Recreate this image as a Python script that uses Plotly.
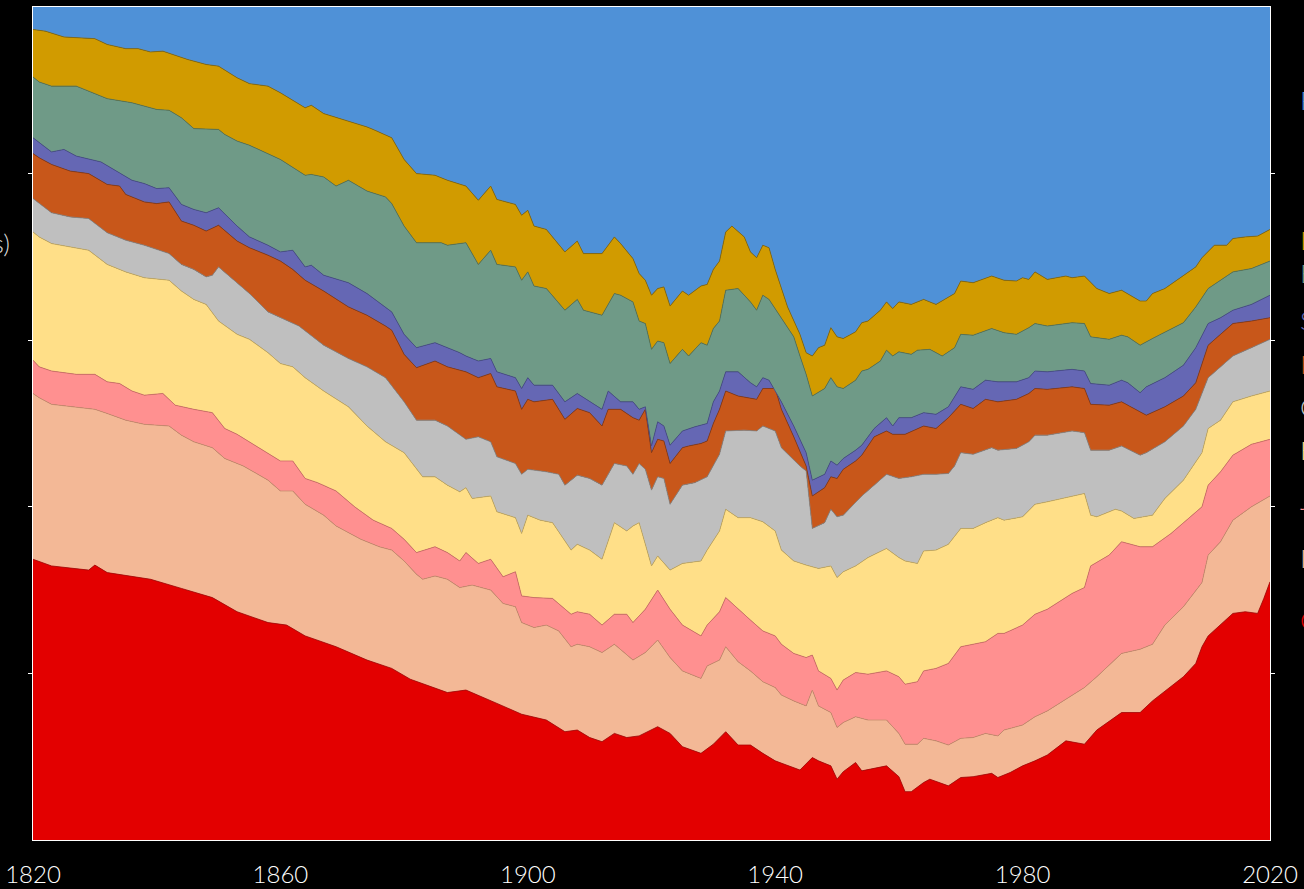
import plotly.graph_objects as go

# Cumulative share (%): top edge of each stacked band, bottom to top.
china_years = [1820,1823,1829,1830,1832,1839,1844,1849,1853,1858,1861,1864,1869,1874,1878,1881,1887,1890,1895,1899,1903,1906,1908,1910,1912,1914,1916,1918,1921,1923,1925,1928,1930,1932,1934,1936,1938,1940,1944,1946,1947,1949,1950,1951,1953,1954,1958,1960,1961,1962,1964,1965,1968,1970,1972,1975,1976,1978,1980,1982,1984,1987,1990,1992,1996,1999,2001,2003,2006,2008,2009,2010,2012,2014,2016,2018,2019,2020]
china_top = [33.7,32.9,32.4,33.0,32.1,31.3,30.2,29.1,27.4,26.1,25.8,24.5,23.2,21.6,20.6,19.3,17.7,18.0,16.4,15.1,14.4,13.0,13.2,12.3,11.8,12.8,12.3,12.5,13.6,12.8,11.2,10.4,11.5,13.0,11.4,11.4,10.4,9.5,8.4,9.9,9.5,8.9,7.3,8.2,9.3,8.3,8.9,7.6,5.8,5.8,6.9,7.3,6.5,7.5,7.6,8.0,7.5,8.1,8.9,9.5,10.2,11.9,11.5,13.2,15.3,15.3,16.7,17.9,19.6,21.2,23.2,24.5,25.8,27.2,27.4,27.2,29.0,31.0]

india_years = [1820,1821,1823,1827,1830,1832,1835,1838,1842,1844,1846,1849,1851,1854,1858,1860,1862,1864,1867,1869,1873,1876,1878,1880,1882,1883,1885,1887,1889,1891,1894,1896,1898,1899,1901,1903,1905,1907,1908,1910,1912,1914,1916,1917,1919,1921,1923,1925,1928,1929,1931,1932,1934,1936,1938,1940,1941,1943,1945,1946,1947,1949,1950,1951,1953,1955,1958,1960,1961,1963,1964,1966,1968,1970,1972,1974,1976,1977,1980,1982,1984,1988,1990,1992,1996,1999,2001,2003,2006,2009,2010,2012,2014,2017,2020]
india_top = [53.6,53.1,52.3,52.0,51.7,51.2,50.4,49.9,49.7,48.6,47.8,47.1,45.8,44.9,43.2,41.9,41.9,40.3,39.0,37.7,36.1,35.2,34.8,33.5,31.9,31.3,31.7,31.3,30.3,30.6,30.0,28.4,28.0,26.1,25.5,25.8,25.1,23.2,23.5,23.2,22.5,23.5,22.2,21.6,22.5,24.0,21.9,20.3,19.4,20.9,21.6,23.2,21.4,20.3,19.0,18.3,17.4,16.7,16.1,18.0,16.1,15.3,13.5,14.1,14.8,14.4,14.4,12.8,11.5,11.5,12.2,11.9,11.4,12.2,12.3,12.8,12.5,13.2,13.8,14.8,15.5,17.4,18.3,19.6,22.4,22.9,23.5,25.8,28.0,30.9,34.2,35.8,38.4,40.0,41.3]

japan_years = [1820,1821,1823,1827,1830,1832,1834,1836,1838,1841,1843,1846,1849,1851,1853,1855,1858,1860,1862,1864,1866,1869,1872,1875,1878,1880,1882,1885,1887,1889,1890,1892,1894,1896,1898,1899,1901,1904,1907,1908,1910,1912,1914,1916,1917,1919,1921,1923,1925,1928,1929,1931,1932,1934,1936,1938,1940,1941,1943,1945,1946,1947,1949,1950,1951,1953,1955,1958,1960,1961,1963,1964,1966,1968,1970,1972,1974,1976,1977,1980,1982,1984,1988,1990,1991,1994,1996,1999,2001,2004,2007,2009,2010,2012,2014,2017,2020]
japan_top = [57.6,56.8,56.3,55.9,55.9,55.0,54.8,53.9,53.4,53.6,52.2,51.7,51.3,49.4,48.7,47.8,46.5,45.5,45.5,43.4,42.9,41.9,40.0,38.4,37.4,36.1,34.5,35.2,34.5,33.5,34.5,33.2,33.7,31.6,32.2,29.3,29.1,29.0,27.1,27.4,27.1,25.8,27.1,27.1,26.1,27.7,30.0,27.7,25.8,24.5,25.8,27.4,29.1,27.7,26.4,25.1,24.5,23.5,22.4,21.9,22.2,20.3,19.4,18.0,19.2,20.1,19.9,20.3,19.6,18.7,19.0,20.3,20.6,21.2,23.2,23.5,23.8,24.8,24.8,25.8,27.1,27.7,29.6,30.3,32.9,34.2,35.8,35.2,35.2,36.8,38.7,40.0,42.6,44.2,46.2,47.5,48.1]

korea_years = [1820,1821,1823,1829,1832,1835,1838,1842,1844,1846,1848,1850,1853,1855,1858,1860,1862,1864,1867,1871,1874,1877,1880,1881,1883,1885,1887,1889,1890,1891,1894,1895,1898,1899,1900,1902,1904,1907,1908,1910,1912,1914,1916,1917,1918,1919,1920,1921,1923,1925,1928,1929,1931,1932,1934,1936,1938,1940,1941,1943,1945,1947,1949,1950,1951,1953,1955,1958,1960,1961,1963,1964,1966,1968,1970,1972,1974,1976,1977,1980,1982,1984,1988,1990,1991,1992,1995,1996,1998,2001,2003,2006,2009,2010,2012,2014,2017,2020]
korea_top = [73.0,72.4,71.6,70.8,69.1,68.2,67.5,67.2,65.9,64.9,64.3,62.3,60.7,60.1,58.5,57.2,56.8,55.5,53.9,52.0,49.7,47.8,46.5,45.5,43.6,43.6,42.6,41.8,42.3,41.0,41.3,39.4,38.7,36.8,39.0,38.4,38.1,34.8,35.5,34.8,33.7,38.1,37.1,37.7,38.1,35.5,32.9,34.1,32.4,33.2,33.5,34.8,37.1,39.7,38.7,38.7,38.2,37.1,34.8,33.5,33.0,32.6,32.9,31.5,32.2,32.9,33.9,35.0,33.9,33.5,33.2,34.7,34.8,35.5,37.4,37.4,38.1,38.7,38.4,38.8,40.3,40.6,41.3,41.6,39.0,38.8,39.7,39.5,38.6,39.0,41.0,43.2,46.5,49.4,50.4,52.6,53.3,53.9]

central_years = [1820,1821,1823,1826,1829,1832,1835,1838,1842,1844,1846,1848,1849,1850,1853,1855,1858,1860,1863,1867,1871,1874,1877,1880,1882,1885,1887,1890,1892,1894,1895,1898,1899,1900,1903,1905,1906,1908,1910,1912,1914,1916,1917,1918,1919,1920,1921,1922,1923,1925,1927,1929,1931,1932,1935,1937,1938,1940,1941,1944,1945,1946,1948,1949,1950,1951,1953,1954,1956,1958,1960,1962,1964,1966,1968,1969,1970,1972,1975,1976,1979,1981,1982,1984,1988,1990,1991,1992,1994,1996,1999,2000,2003,2006,2008,2010,2012,2014,2017,2020]
central_top = [77.0,76.4,75.3,74.8,74.6,72.9,72.0,71.4,70.4,69.1,68.5,67.6,67.8,68.8,66.9,65.6,63.4,62.7,61.7,59.4,57.8,56.8,55.5,52.6,50.4,50.4,49.7,48.1,48.4,47.8,46.0,45.2,43.9,44.5,44.2,43.9,42.6,43.8,43.4,42.6,45.2,44.9,43.9,45.2,44.5,42.0,43.6,43.4,40.3,42.6,42.9,43.6,46.3,49.1,49.2,49.1,49.7,49.1,47.1,44.9,44.3,37.4,38.1,39.7,38.8,39.0,40.6,41.3,42.6,43.9,43.4,43.6,43.9,43.9,44.0,44.9,46.5,46.3,47.1,46.8,47.0,47.8,48.6,48.6,49.1,48.9,46.8,46.8,46.8,47.3,46.2,46.5,47.8,49.7,51.7,55.5,56.8,58.1,59.1,60.1]

mideast_years = [1820,1821,1823,1826,1829,1832,1834,1835,1838,1840,1842,1844,1846,1848,1850,1853,1855,1858,1860,1862,1864,1867,1871,1874,1877,1878,1880,1882,1885,1887,1890,1892,1894,1895,1898,1899,1900,1901,1904,1906,1908,1910,1912,1913,1915,1917,1918,1919,1920,1921,1922,1923,1925,1926,1928,1929,1930,1931,1932,1934,1937,1938,1940,1941,1943,1945,1946,1948,1949,1950,1951,1953,1954,1956,1958,1959,1961,1963,1964,1966,1968,1970,1972,1974,1976,1979,1981,1982,1984,1988,1990,1991,1994,1996,1997,1999,2000,2003,2006,2008,2010,2012,2014,2017,2020]
mideast_top = [82.4,81.9,81.1,80.3,80.0,78.7,78.5,77.5,76.6,76.4,76.6,74.3,73.8,73.1,73.8,71.9,71.1,70.2,69.5,68.5,67.2,65.9,64.0,63.0,61.7,61.2,58.3,56.7,57.5,56.8,56.2,55.5,56.0,54.4,53.9,51.7,52.9,52.6,52.9,50.5,51.8,51.3,49.7,51.7,51.7,50.7,50.4,51.7,46.5,48.1,47.9,45.2,47.1,47.3,47.6,47.9,50.0,51.7,53.9,53.3,52.9,54.2,54.2,51.7,48.4,44.9,41.3,42.3,43.6,43.4,44.5,45.5,46.2,48.4,49.1,48.7,48.7,49.4,49.7,49.4,50.7,52.3,51.8,52.9,52.6,52.9,53.6,54.2,54.1,54.4,54.2,52.3,52.2,52.6,52.2,51.3,51.0,52.0,53.3,54.9,59.4,60.7,62.0,62.3,62.7]

seasia_years = [1820,1821,1823,1825,1827,1831,1834,1836,1838,1840,1842,1844,1846,1848,1850,1853,1855,1858,1860,1862,1864,1865,1867,1871,1874,1877,1878,1880,1882,1885,1886,1889,1890,1892,1894,1895,1898,1899,1900,1901,1904,1906,1908,1910,1912,1913,1915,1917,1918,1919,1920,1921,1922,1923,1925,1927,1929,1930,1931,1932,1934,1936,1937,1938,1939,1941,1943,1945,1946,1948,1949,1950,1951,1953,1954,1956,1958,1959,1960,1962,1964,1966,1968,1970,1972,1974,1976,1979,1981,1982,1984,1988,1990,1991,1994,1996,1997,1999,2000,2003,2006,2008,2010,2012,2014,2017,2020]
seasia_top = [84.3,83.7,82.6,82.9,82.1,81.4,80.1,79.2,78.8,78.2,78.3,76.3,75.7,75.3,75.9,73.7,72.4,71.4,70.6,70.8,68.8,69.0,67.8,66.9,65.6,64.0,63.4,60.7,59.1,59.7,59.4,58.5,58.1,57.5,57.8,56.2,55.5,54.2,55.5,54.6,54.6,52.6,53.6,52.6,51.7,53.9,52.6,52.6,51.7,52.0,47.3,50.2,49.7,47.4,49.1,49.6,50.0,52.6,53.9,56.2,56.2,54.9,54.4,55.5,55.2,52.6,49.7,46.5,43.2,43.9,45.5,45.0,45.8,46.8,47.4,49.4,50.7,49.7,50.7,50.7,51.3,51.1,52.0,54.4,54.1,55.2,55.0,55.0,55.5,56.3,56.2,56.5,56.3,54.8,54.6,55.2,54.9,53.7,54.4,55.5,57.0,59.1,62.0,62.7,63.6,64.3,65.4]

eeurope_years = [1820,1821,1823,1827,1831,1832,1836,1840,1842,1844,1846,1850,1851,1853,1855,1858,1860,1864,1865,1867,1869,1871,1874,1877,1878,1880,1882,1883,1886,1887,1890,1892,1894,1895,1898,1899,1900,1901,1903,1906,1908,1909,1912,1914,1915,1917,1918,1919,1920,1921,1922,1923,1925,1926,1928,1929,1930,1931,1932,1934,1936,1937,1938,1939,1941,1943,1944,1945,1946,1948,1949,1950,1951,1953,1954,1955,1957,1958,1959,1960,1962,1963,1965,1967,1969,1970,1972,1975,1977,1979,1981,1982,1984,1988,1990,1991,1994,1996,1997,1999,2001,2003,2006,2008,2010,2012,2014,2017,2020]
eeurope_top = [91.6,91.0,90.5,90.5,89.3,89.0,88.5,87.7,87.6,86.7,85.4,85.3,84.7,83.9,83.4,82.4,81.7,79.8,79.9,79.6,78.5,79.2,77.9,77.2,76.4,73.7,71.7,71.7,71.7,71.4,71.7,69.1,70.8,69.1,68.8,67.2,68.2,66.5,66.2,63.6,64.9,63.6,63.0,65.6,65.4,64.6,62.3,62.0,58.9,59.9,59.7,57.2,58.9,58.1,59.7,59.4,61.4,62.3,66.0,66.2,64.6,63.6,65.4,64.9,62.7,60.4,58.1,55.9,53.3,54.2,55.5,54.4,54.2,55.2,56.3,56.5,57.5,58.8,58.1,58.6,58.3,58.8,58.9,58.1,59.1,60.7,60.6,61.4,60.9,60.7,61.5,62.0,61.7,62.1,62.0,60.4,60.1,60.6,60.4,59.4,60.2,61.0,62.1,64.0,66.2,67.2,68.2,68.6,69.5]

latam_years = [1820,1822,1825,1827,1830,1832,1835,1837,1839,1841,1843,1845,1848,1850,1853,1855,1858,1860,1864,1865,1867,1871,1874,1875,1878,1880,1882,1885,1887,1890,1892,1894,1895,1898,1899,1900,1901,1903,1906,1908,1909,1912,1914,1915,1917,1918,1919,1920,1921,1922,1923,1925,1926,1928,1929,1930,1931,1932,1933,1935,1936,1937,1938,1939,1940,1942,1944,1945,1946,1947,1948,1949,1950,1951,1953,1954,1955,1957,1958,1959,1960,1962,1964,1966,1969,1970,1972,1975,1977,1979,1980,1981,1982,1984,1987,1988,1990,1992,1994,1996,1997,1999,2000,2001,2003,2005,2008,2009,2011,2013,2014,2016,2018,2020]
latam_top = [97.3,97.1,96.4,96.3,96.2,95.5,95.0,95.0,94.6,94.7,94.2,93.7,93.1,92.9,91.5,90.8,90.5,89.7,87.9,88.2,87.2,86.3,85.6,85.3,84.3,81.7,80.0,79.8,79.2,78.5,76.8,78.5,76.9,76.3,75.0,75.6,73.7,73.3,70.6,71.9,70.4,70.4,72.4,71.6,69.8,68.0,67.2,65.4,66.2,66.4,64.1,65.9,65.4,66.5,66.7,68.5,69.5,73.0,73.7,72.4,70.6,69.9,71.4,71.1,68.5,64.0,60.7,58.5,58.1,59.1,59.4,61.5,60.4,60.2,61.0,62.1,62.3,63.6,64.6,63.8,64.6,64.3,64.9,64.3,65.6,67.1,66.9,67.7,67.2,67.1,67.5,67.3,68.2,67.3,67.7,67.5,67.7,66.2,65.6,66.0,65.6,64.7,64.7,65.6,66.2,67.2,68.8,69.9,71.4,71.4,72.2,72.4,72.5,73.3]

rest_years = [1820, 2020]
rest_top = [100, 100]

series = [
    ("China", china_years, china_top, "#E30000", "#B00000"),
    ("India", india_years, india_top, "#F3B896", "#C98F70"),
    ("Japan", japan_years, japan_top, "#FF9090", "#D06A6A"),
    ("Korea", korea_years, korea_top, "#FFDF88", "#C8AC5E"),
    ("Central Asia", central_years, central_top, "#BFBFBF", "#8C8C8C"),
    ("Middle East", mideast_years, mideast_top, "#C8571A", "#8E3A0E"),
    ("South-East Asia", seasia_years, seasia_top, "#6567B4", "#474A8C"),
    ("Eastern Europe", eeurope_years, eeurope_top, "#6F9A87", "#4E7464"),
    ("Latin America", latam_years, latam_top, "#D19B00", "#8F6A00"),
    ("Rest of the World", rest_years, rest_top, "#4F91D7", "#4F91D7"),
]

label_y = [0.264, 0.338, 0.408, 0.468, 0.520, 0.571, 0.624, 0.681, 0.720, 0.888]

FONT = "Lato, sans-serif"

fig = go.Figure()
for i, (name, xs, ys, col, edge) in enumerate(series):
    fig.add_trace(go.Scatter(
        x=xs, y=ys, name=name, mode="lines",
        line=dict(color=edge, width=0.8),
        fill="tozeroy" if i == 0 else "tonexty",
        fillcolor=col, hoverinfo="x+y+name",
    ))

annotations = []
for (name, xs, ys, col, edge), ly in zip(series, label_y):
    annotations.append(dict(
        text=name, xref="paper", yref="paper", x=1.0228, y=ly,
        xanchor="left", yanchor="middle", showarrow=False,
        font=dict(color=col, size=26, family=FONT, weight=300),
    ))
annotations.append(dict(
    text="Share of world GDP (PPP, 2011 dollars)", xref="paper", yref="paper",
    x=-0.017, y=0.717, xanchor="right", yanchor="middle", showarrow=False,
    font=dict(color="#d9d9d9", size=26, family=FONT, weight=300),
))

fig.update_layout(
    width=1304, height=889,
    paper_bgcolor="black", plot_bgcolor="black",
    margin=dict(l=33, r=34, t=7, b=49),
    showlegend=False,
    annotations=annotations,
    font=dict(family=FONT, color="white"),
)
fig.update_xaxes(
    range=[1820, 2020], tickvals=[1820, 1860, 1900, 1940, 1980, 2020],
    showgrid=False, zeroline=False, showline=True, linecolor="white", linewidth=1,
    mirror=True, ticks="outside", ticklen=13, tickcolor="rgba(0,0,0,0)",
    tickfont=dict(size=24, color="white", family=FONT, weight=300),
    automargin=False,
)
fig.update_yaxes(
    range=[0, 100], tickvals=[20, 40, 60, 80], showticklabels=False,
    showgrid=False, zeroline=False, showline=True, linecolor="white", linewidth=1,
    mirror="ticks", ticks="outside", ticklen=4, tickcolor="white",
    automargin=False,
)

fig.write_html(
    "out.html",
    config={"displayModeBar": False},
    post_script="document.body.style.margin='0';document.body.style.background='black';document.body.style.overflow='hidden';",
)
